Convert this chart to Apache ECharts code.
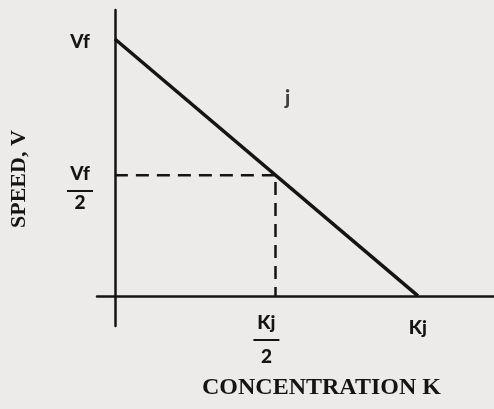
<!DOCTYPE html>
<html>
<head>
<meta charset="utf-8">
<style>
  html, body { margin: 0; padding: 0; background: #ecebea; }
  #chart { width: 494px; height: 409px; }
</style>
<script src="https://cdn.jsdelivr.net/npm/echarts@6/dist/echarts.min.js"></script>
</head>
<body>
<div id="chart"></div>
<script>
// ---- data (concentration K as fraction of jam density Kj, speed V as fraction of Vf) ----
const lineK = [0, 1];          // K at V = Vf, and at V = 0 (Kj)
const lineV = [1, 0];          // speed values at those concentrations
const halfK = 0.53;            // dashed guide: concentration
const halfV = 0.47;            // dashed guide: speed
const xTickValues = [0.5, 1];
const xTickLabels = ['Kj/2', 'Kj'];
const yTickValues = [1, 0.5];
const yTickLabels = ['Vf', 'Vf/2'];
const regionLabel = 'j';
const regionK = 0.57;
const regionV = 0.77;
const xAxisTitle = 'CONCENTRATION K';
const yAxisTitle = 'SPEED, V';

const ink = '#141414';
const labelFont = 'Lato';
const labelWeight = 900;

function fractionOrPlain(label) {
  const parts = label.split('/');
  if (parts.length === 2) {
    return { num: parts[0], den: parts[1] };
  }
  return { plain: label };
}

const chart = echarts.init(document.getElementById('chart'), null, { renderer: 'canvas' });

const txt = { fontFamily: labelFont, fontWeight: labelWeight, fontSize: 19, color: ink, width: 30, align: 'center' };
const richBase = {
  n: Object.assign({}, txt, { lineHeight: 20 }),
  vn: Object.assign({}, txt, { lineHeight: 30 }),
  t: Object.assign({}, txt, { lineHeight: 26, padding: [6, 0, 0, 0] }),
  k: Object.assign({}, txt, { lineHeight: 30 }),
  bar: { width: 26, height: 2, lineHeight: 14, fontSize: 2, backgroundColor: ink, align: 'center' },
  vbar: { width: 26, height: 2, lineHeight: 4, fontSize: 2, backgroundColor: ink, align: 'center' },
  d: Object.assign({}, txt, { lineHeight: 20 }),
  sp: { fontSize: 2, lineHeight: 37, width: 30 }
};

const option = {
  backgroundColor: '#ecebea',
  animation: false,
  grid: { left: 97, right: 0, top: 10, bottom: 83, containLabel: false, outerBoundsMode: 'none' },
  xAxis: {
    type: 'value',
    min: -0.059,
    max: 1.251,
    axisLine: { show: true, onZero: true, lineStyle: { color: ink, width: 2.5 } },
    axisTick: { show: false },
    splitLine: { show: false },
    axisLabel: {
      customValues: xTickValues,
      margin: -13,
      verticalAlign: 'top',
      rich: richBase,
      formatter: function (v) {
        const i = xTickValues.indexOf(v);
        if (i < 0) return '';
        const f = fractionOrPlain(xTickLabels[i]);
        if (f.plain) return '{k|' + f.plain + '}';
        return '{n|' + f.num + '}\n{bar| }\n{d|' + f.den + '}';
      }
    }
  },
  yAxis: {
    type: 'value',
    min: -0.117,
    max: 1.113,
    axisLine: { show: true, onZero: true, lineStyle: { color: ink, width: 2.5 } },
    axisTick: { show: false },
    splitLine: { show: false },
    axisLabel: {
      customValues: yTickValues,
      margin: 2,
      align: 'right',
      rich: richBase,
      formatter: function (v) {
        const i = yTickValues.indexOf(v);
        if (i < 0) return '';
        const f = fractionOrPlain(yTickLabels[i]);
        if (f.plain) return '{t|' + f.plain + '}';
        return '{sp| }\n{vn|' + f.num + '}\n{vbar| }\n{d|' + f.den + '}';
      }
    }
  },
  graphic: [
    {
      type: 'text', left: 202, top: 376, silent: true,
      style: { text: xAxisTitle, fill: ink, font: 'bold 24px "Liberation Serif"' }
    },
    {
      type: 'text', x: 8, y: 228, rotation: Math.PI / 2, silent: true,
      style: { text: yAxisTitle, fill: ink, font: 'bold 22px "Liberation Serif"', textVerticalAlign: 'top' }
    }
  ],
  series: [
    {
      type: 'line',
      data: lineK.map((k, i) => [k, lineV[i]]),
      symbol: 'none',
      lineStyle: { color: ink, width: 3.5 },
      z: 5
    },
    {
      type: 'line',
      data: [[0, halfV], [halfK, halfV]],
      symbol: 'none',
      lineStyle: { color: ink, width: 2.5, type: [13, 8] }
    },
    {
      type: 'line',
      data: [[halfK, 0], [halfK, halfV]],
      symbol: 'none',
      lineStyle: { color: ink, width: 2.5, type: [13, 8], dashOffset: 4 }
    },
    {
      type: 'scatter',
      data: [[regionK, regionV]],
      symbolSize: 1,
      itemStyle: { color: 'rgba(0,0,0,0)' },
      label: {
        show: true, position: 'inside', formatter: regionLabel,
        fontFamily: labelFont, fontWeight: labelWeight, fontSize: 20, color: ink,
        textBorderWidth: 0
      }
    }
  ]
};

chart.setOption(option);
</script>
</body>
</html>
